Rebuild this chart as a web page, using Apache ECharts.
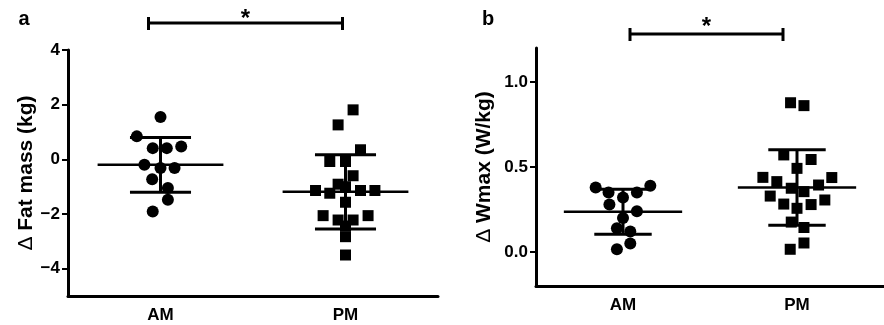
<!DOCTYPE html>
<html>
<head>
<meta charset="utf-8">
<script src="https://cdn.jsdelivr.net/npm/echarts@6/dist/echarts.min.js"></script>
<style>
  html, body { margin: 0; padding: 0; background: #fff; }
  #chart { width: 884px; height: 325px; }
</style>
</head>
<body>
<div id="chart"></div>
<script>
const groups = ['AM', 'PM']
const yTicksFat = [-4, -2, 0, 2, 4]
const yTicksWmax = [0, 0.5, 1.0]

// panel a: change in fat mass (kg); x = horizontal scatter offset within the group
const amFatX = [0, -0.128, -0.042, 0.034, 0.112, -0.087, 0, 0.076, -0.045, 0.04, 0.04, -0.042]
const amFatY = [1.55, 0.84, 0.41, 0.41, 0.47, -0.2, -0.32, -0.32, -0.73, -1.05, -1.48, -1.91]
const pmFatX = [0.041, -0.04, 0.081, -0.085, 0, 0.041, -0.04, 0, -0.162, -0.085, 0.081, 0.159, 0, -0.121, 0.122, -0.04, 0.041, 0, 0, 0]
const pmFatY = [1.81, 1.26, 0.35, -0.08, -0.08, -0.6, -0.91, -1.0, -1.14, -1.24, -1.14, -1.14, -1.57, -2.06, -2.06, -2.22, -2.22, -2.44, -2.83, -3.5]
const fatMean = [-0.2, -1.19]
const fatSd = [1.0, 1.36]

// panel b: change in Wmax (W/kg)
const amWX = [-0.157, -0.083, 0, 0.08, 0.157, -0.078, 0.08, 0, -0.035, 0.042, 0.042, -0.035]
const amWY = [0.38, 0.35, 0.32, 0.35, 0.39, 0.28, 0.24, 0.2, 0.14, 0.12, 0.05, 0.016]
const pmWX = [-0.037, 0.04, -0.076, 0.081, 0, -0.196, -0.116, 0.2, 0.124, -0.033, 0.04, -0.154, 0.16, 0.081, -0.076, 0, -0.033, 0.04, 0.04, -0.039]
const pmWY = [0.878, 0.861, 0.571, 0.544, 0.492, 0.439, 0.414, 0.438, 0.394, 0.375, 0.355, 0.329, 0.306, 0.279, 0.282, 0.257, 0.176, 0.144, 0.053, 0.016]
const wMean = [0.237, 0.38]
const wSd = [0.132, 0.222]

const FONT = 'Liberation Sans, Arial, sans-serif'
const pts = (xs, ys, g) => xs.map((x, i) => [g + x, ys[i]])

const chart = echarts.init(document.getElementById('chart'))

function catAxis(gridIndex) {
  return {
    type: 'category', gridIndex, data: groups,
    axisLine: { onZero: false, lineStyle: { color: '#000', width: 3 } },
    axisTick: { alignWithLabel: true, length: 6, lineStyle: { color: '#000', width: 2 } },
    axisLabel: { color: '#000', fontSize: 17, fontWeight: 'bold', fontFamily: FONT, margin: 11 },
    splitLine: { show: false }
  }
}
function valX(gridIndex) {
  return { type: 'value', gridIndex, min: -0.5, max: 1.5, show: false }
}
function valY(gridIndex, min, max, ticks, name, gap, fmt) {
  return {
    type: 'value', gridIndex, min, max,
    name, nameLocation: 'middle', nameGap: gap, nameRotate: 90,
    nameTextStyle: {
      color: '#000', fontSize: 21, fontWeight: 'bold', fontFamily: FONT,
      rich: { d: { fontSize: 21, fontWeight: 'normal', fontFamily: FONT, color: '#000' } }
    },
    axisLine: { show: true, onZero: false, lineStyle: { color: '#000', width: 3 } },
    axisTick: { show: true, length: 6, customValues: ticks, lineStyle: { color: '#000', width: 2 } },
    axisLabel: {
      customValues: ticks, color: '#000', fontSize: 17, fontWeight: 'bold', fontFamily: FONT, margin: 8,
      formatter: fmt
    },
    splitLine: { show: false }
  }
}

// mean line with SD whiskers
function statsItem(params, api) {
  const c = api.value(0), m = api.value(1), s = api.value(2)
  const unit = api.size([1, 0])[0]
  const p = api.coord([c, m]), hi = api.coord([c, m + s]), lo = api.coord([c, m - s])
  const mw = unit * 0.34, sw = unit * 0.165
  const st = { stroke: '#000', lineWidth: 3 }
  return {
    type: 'group',
    children: [
      { type: 'line', shape: { x1: p[0] - mw, y1: p[1], x2: p[0] + mw, y2: p[1] }, style: { stroke: '#000', lineWidth: 2.5 } },
      { type: 'line', shape: { x1: hi[0] - sw, y1: hi[1], x2: hi[0] + sw, y2: hi[1] }, style: st },
      { type: 'line', shape: { x1: lo[0] - sw, y1: lo[1], x2: lo[0] + sw, y2: lo[1] }, style: st },
      { type: 'line', shape: { x1: hi[0], y1: hi[1], x2: lo[0], y2: lo[1] }, style: st }
    ]
  }
}

const scatterBase = { type: 'scatter', itemStyle: { color: '#000', opacity: 1 }, silent: true }

chart.setOption({
  animation: false,
  backgroundColor: '#fff',
  grid: [
    { left: 68, top: 50, width: 370, height: 246 },
    { left: 536, top: 48, width: 361, height: 238 }
  ],
  xAxis: [catAxis(0), catAxis(1), valX(0), valX(1)],
  yAxis: [
    valY(0, -5, 4, yTicksFat, '{d|Δ} Fat mass (kg)', 30, v => String(v).replace('-', '−')),
    valY(1, -0.2, 1.2, yTicksWmax, '{d|Δ} Wmax (W/kg)', 41, v => v.toFixed(1))
  ],
  series: [
    { ...scatterBase, xAxisIndex: 2, yAxisIndex: 0, symbol: 'circle', symbolSize: 12, data: pts(amFatX, amFatY, 0) },
    { ...scatterBase, xAxisIndex: 2, yAxisIndex: 0, symbol: 'rect', symbolSize: 11, data: pts(pmFatX, pmFatY, 1) },
    { type: 'custom', xAxisIndex: 2, yAxisIndex: 0, renderItem: statsItem, silent: true,
      data: groups.map((g, i) => [i, fatMean[i], fatSd[i]]) },
    { ...scatterBase, xAxisIndex: 3, yAxisIndex: 1, symbol: 'circle', symbolSize: 12, data: pts(amWX, amWY, 0) },
    { ...scatterBase, xAxisIndex: 3, yAxisIndex: 1, symbol: 'rect', symbolSize: 11, data: pts(pmWX, pmWY, 1) },
    { type: 'custom', xAxisIndex: 3, yAxisIndex: 1, renderItem: statsItem, silent: true,
      data: groups.map((g, i) => [i, wMean[i], wSd[i]]) }
  ]
})

// significance brackets between AM and PM, panel letters
function bracket(xAxisIndex, offL, offR, y, starY) {
  const x1 = chart.convertToPixel({ xAxisIndex }, 0) + offL
  const x2 = chart.convertToPixel({ xAxisIndex }, 1) + offR
  const st = { stroke: '#000', lineWidth: 3 }
  return [
    { type: 'line', shape: { x1, y1: y, x2, y2: y }, style: st },
    { type: 'line', shape: { x1, y1: y - 6, x2: x1, y2: y + 7 }, style: st },
    { type: 'line', shape: { x1: x2, y1: y - 6, x2, y2: y + 7 }, style: st },
    { type: 'text', x: (x1 + x2) / 2, y: starY,
      style: { text: '*', fill: '#000', font: 'bold 24px ' + FONT, textAlign: 'center', textVerticalAlign: 'middle' } }
  ]
}
const letter = (t, x) => ({ type: 'text', x, y: 19,
  style: { text: t, fill: '#000', font: 'bold 20px ' + FONT, textAlign: 'center', textVerticalAlign: 'middle' } })

chart.setOption({
  graphic: [
    ...bracket(2, -12, -3, 23, 19),
    ...bracket(3, 7, -14, 34, 27),
    letter('a', 24),
    letter('b', 488)
  ]
})
</script>
</body>
</html>
